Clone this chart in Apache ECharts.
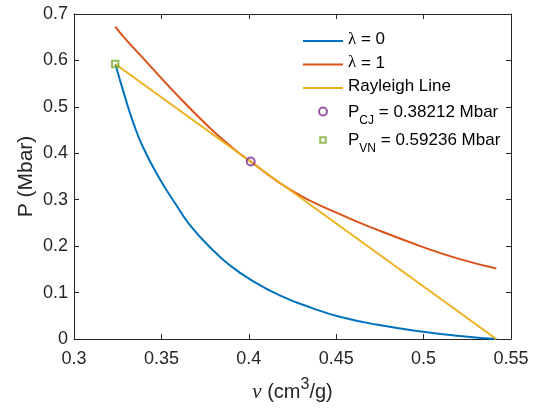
<!DOCTYPE html>
<html>
<head>
<meta charset="utf-8">
<script src="https://cdn.jsdelivr.net/npm/echarts@6/dist/echarts.min.js"></script>
<style>
html,body{margin:0;padding:0;background:#fff;}
#chart{width:538px;height:408px;}
</style>
</head>
<body>
<div id="chart"></div>
<script>
// ---- data ----
const xTicks = [0.3, 0.35, 0.4, 0.45, 0.5, 0.55];
const yTicks = [0, 0.1, 0.2, 0.3, 0.4, 0.5, 0.6, 0.7];

const vLambda0 = [0.3237, 0.3280, 0.3338, 0.3395, 0.3490, 0.3586, 0.3662, 0.3795, 0.3891, 0.4001, 0.4177, 0.4367, 0.4520, 0.4730, 0.4997, 0.5207, 0.5416];
const pLambda0 = [0.5924, 0.536, 0.467, 0.413, 0.345, 0.288, 0.246, 0.191, 0.159, 0.130, 0.094, 0.066, 0.048, 0.031, 0.0155, 0.0065, 0.0];

const vLambda1 = [0.3236, 0.3290, 0.3395, 0.3586, 0.3776, 0.3910, 0.4011, 0.4253, 0.4501, 0.4730, 0.4997, 0.5207, 0.5416];
const pLambda1 = [0.673, 0.648, 0.605, 0.527, 0.455, 0.411, 0.382, 0.318, 0.272, 0.236, 0.198, 0.172, 0.152];

const vRayleigh = [0.3236, 0.5416];
const pRayleigh = [0.59236, 0.0];

const vCJ = [0.4011]; const pCJ = [0.38212];
const vVN = [0.3236]; const pVN = [0.59236];

const seriesNames = ['λ = 0', 'λ = 1', 'Rayleigh Line', 'P_CJ', 'P_VN'];
const legendLabels = {
  'λ = 0': '{g|λ}{m| = 0}',
  'λ = 1': '{g|λ}{m| = 1}',
  'Rayleigh Line': '{m|Rayleigh Line}',
  'P_CJ': '{mp|P}{s|CJ}{mp| = 0.38212 Mbar}',
  'P_VN': '{mp|P}{s|VN}{mp| = 0.59236 Mbar}'
};

function zip(a, b) { return a.map((x, i) => [x, b[i]]); }

const FONT = 'Liberation Sans';
const TXT = '#262626';
const AX = '#262626';

const chart = echarts.init(document.getElementById('chart'), null, {renderer: 'canvas'});

const xCommon = {
  type: 'value', min: xTicks[0], max: xTicks[xTicks.length - 1], interval: 0.05,
  splitLine: {show: false},
  axisLine: {show: true, onZero: false, lineStyle: {color: AX, width: 1}},
  axisTick: {show: true, inside: true, length: 5, lineStyle: {color: AX, width: 1}}
};
const yCommon = {
  type: 'value', min: yTicks[0], max: yTicks[yTicks.length - 1], interval: 0.1,
  splitLine: {show: false},
  axisLine: {show: true, onZero: false, lineStyle: {color: AX, width: 1}},
  axisTick: {show: true, inside: true, length: 5, lineStyle: {color: AX, width: 1}}
};

const hidden = {color: 'rgba(0,0,0,0)', borderWidth: 0, opacity: 0};

const option = {
  backgroundColor: '#fff',
  animation: false,
  grid: {left: 74, right: 27, top: 14, bottom: 69, containLabel: false},
  xAxis: [
    Object.assign({}, xCommon, {
      position: 'bottom',
      axisLabel: {show: true, color: TXT, fontFamily: FONT, fontSize: 18, margin: 11},
      name: '{g|ν}{m| (cm}{s|3}{m|/g)}',
      nameLocation: 'middle',
      nameGap: 38,
      nameMoveOverlap: false,
      nameTextStyle: {
        color: TXT, fontFamily: FONT, fontSize: 20,
        rich: {
          g: {fontFamily: 'Liberation Serif', fontStyle: 'italic', fontSize: 21, color: TXT, lineHeight: 24, padding: [5, 0, 0, 0], verticalAlign: 'top'},
          m: {fontFamily: FONT, fontSize: 20, color: TXT, lineHeight: 24, padding: [5, 0, 0, 0], verticalAlign: 'top'},
          s: {fontFamily: FONT, fontSize: 16, color: TXT, lineHeight: 16, padding: [0, 0, 0, 0], verticalAlign: 'top'}
        }
      }
    }),
    Object.assign({}, xCommon, {position: 'top', axisLabel: {show: false}})
  ],
  yAxis: [
    Object.assign({}, yCommon, {
      position: 'left',
      axisLabel: {show: true, color: TXT, fontFamily: FONT, fontSize: 18, margin: 6},
      name: 'P (Mbar)',
      nameLocation: 'middle',
      nameGap: 37,
      nameMoveOverlap: false,
      nameTextStyle: {color: TXT, fontFamily: FONT, fontSize: 21}
    }),
    Object.assign({}, yCommon, {position: 'right', axisLabel: {show: false}})
  ],
  legend: {
    show: true,
    orient: 'vertical',
    left: 302,
    top: 31,
    itemWidth: 40,
    itemHeight: 8,
    itemGap: 3.5,
    padding: 0,
    data: [
      {name: seriesNames[0], itemStyle: hidden},
      {name: seriesNames[1], itemStyle: hidden},
      {name: seriesNames[2], itemStyle: hidden},
      {name: seriesNames[3]},
      {name: seriesNames[4]}
    ],
    formatter: function (name) { return legendLabels[name]; },
    textStyle: {
      color: '#000', fontFamily: FONT, fontSize: 17, lineHeight: 20,
      rich: {
        g: {fontFamily: 'Liberation Serif', fontSize: 17, color: '#000', lineHeight: 20, verticalAlign: 'top'},
        m: {fontFamily: FONT, fontSize: 17, color: '#000', lineHeight: 20, verticalAlign: 'top'},
        mp: {fontFamily: FONT, fontSize: 17, color: '#000', lineHeight: 20, padding: [2, 0, 0, 0], verticalAlign: 'top'},
        s: {fontFamily: FONT, fontSize: 12, color: '#000', lineHeight: 12, padding: [13, 0, 0, 0], verticalAlign: 'top'}
      }
    }
  },
  series: [
    {
      name: seriesNames[0], type: 'line', data: zip(vLambda0, pLambda0),
      symbol: 'none', smooth: 0.5,
      lineStyle: {color: '#0072BD', width: 2}, itemStyle: {color: '#0072BD'}, z: 2
    },
    {
      name: seriesNames[1], type: 'line', data: zip(vLambda1, pLambda1),
      symbol: 'none', smooth: 0.5,
      lineStyle: {color: '#D95319', width: 2}, itemStyle: {color: '#D95319'}, z: 3
    },
    {
      name: seriesNames[2], type: 'line', data: zip(vRayleigh, pRayleigh),
      symbol: 'none',
      lineStyle: {color: '#EDB120', width: 2}, itemStyle: {color: '#EDB120'}, z: 4
    },
    {
      name: seriesNames[3], type: 'scatter', data: zip(vCJ, pCJ),
      symbol: 'circle', symbolSize: 8,
      itemStyle: {color: 'rgba(0,0,0,0)', borderColor: '#7E2F8E', borderWidth: 2}, z: 5
    },
    {
      name: seriesNames[4], type: 'scatter', data: zip(vVN, pVN),
      symbol: 'path://M0,0M1.5,1.5L8.5,1.5L8.5,8.5L1.5,8.5ZM10,10', symbolSize: 9,
      itemStyle: {color: 'rgba(0,0,0,0)', borderColor: '#77AC30', borderWidth: 2}, z: 5
    }
  ]
};
chart.setOption(option);
</script>
</body>
</html>
